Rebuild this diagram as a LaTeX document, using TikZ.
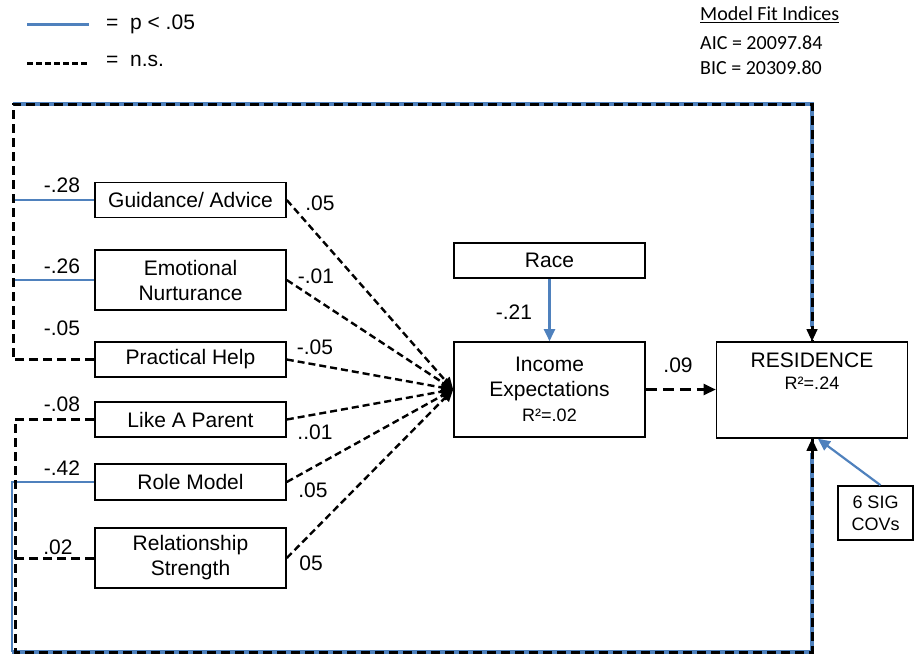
\documentclass[tikz,border=0pt]{standalone}
\usepackage{fontspec}
\setmainfont{Liberation Sans}
\newfontfamily\fitfont{Carlito}
\usetikzlibrary{arrows.meta,calc}
\definecolor{sigblue}{RGB}{79,129,189}

\begin{document}
\begin{tikzpicture}[x=1pt,y=-1pt,
  box/.style={draw,line width=1.6pt,minimum width=191pt,minimum height=35pt,
    inner sep=0pt,align=center,font=\fontsize{21}{25}\selectfont},
  lbl/.style={inner sep=0pt,font=\fontsize{21}{25}\selectfont},
  fit/.style={anchor=west,inner sep=0pt,font=\fitfont\fontsize{20}{24}\selectfont},
  tip/.style={-{Triangle[length=12pt,width=11pt]}},
  sigline/.style={draw=sigblue,line width=2.2pt},
  sigunder/.style={draw=sigblue,line width=4pt},
  nsline/.style={draw=black,line width=3pt,dash pattern=on 9pt off 5pt},
  nsarrow/.style={draw=black,line width=2.4pt,dash pattern=on 7pt off 4pt,tip}
]
\useasboundingbox (0,0) rectangle (915,654);

% legend
\coordinate (lga) at (27,24);
\coordinate (lgb) at (89,24);
\coordinate (lgc) at (27,63);
\coordinate (lgd) at (89,63);
\draw[sigline,line width=3pt] (lga) -- (lgb);
\draw[line width=3pt,dash pattern=on 6pt off 3pt] (lgc) -- (lgd);
\node[lbl,anchor=west] (lgt1) at (106,24) {=\ \ p < .05};
\node[lbl,anchor=west] (lgt2) at (106,61) {=\ \ n.s.};

% model fit
\node[fit] (mfi) at (700,15) {\underline{Model Fit Indices}};
\node[fit] (aic) at (700,43) {AIC = 20097.84};
\node[fit] (bic) at (700,68) {BIC = 20309.80};

% mentoring predictors
\node[box] (gda) at (190.5,200) {Guidance/ Advice};
\node[box,minimum height=60pt] (emo) at (190.5,280) {Emotional\\Nurturance};
\node[box] (prh) at (190.5,359.5) {Practical Help};
\node[box] (lap) at (190.5,419.5) {Like A Parent};
\node[box,minimum height=36pt] (rom) at (190.5,482) {Role Model};
\node[box,minimum height=60pt] (rls) at (190.5,558) {Relationship\\Strength};

% mediator, outcome and covariates
\node[box] (race) at (549.5,260.5) {Race};
\node[box,minimum height=95pt] (inc) at (549.5,389.5)
  {Income\\Expectations\\{\fontsize{18}{20}\selectfont R²=.02}};
\node[box,minimum height=96pt] (res) at (812,390) {};
\node[lbl,align=center] (restxt) at (812,371) {RESIDENCE\\[-3pt]{\fontsize{18}{20}\selectfont R²=.24}};
\node[box,minimum width=75pt,minimum height=54pt,font=\fontsize{18}{22}\selectfont]
  (covs) at (875.5,513) {6 SIG\\COVs};

% bracket corners
\coordinate (tlc) at (13,104);
\coordinate (trc) at (812,104);
\coordinate (blc) at (15,652);
\coordinate (blb) at (12,652);
\coordinate (brc) at (812,652);

% significant paths (blue, drawn first)
\draw[sigline] (gda.west) -- (gda.west -| tlc);
\draw[sigline] (emo.west) -- (emo.west -| tlc);
\draw[sigunder] (tlc) -- (trc) -- ($(res.north)+(0,-14)$);
\draw[sigline] (rom.west) -- (rom.west -| blb) -- (blb);
\draw[sigunder] (blb) -- (brc) -- ($(res.south)+(0,14)$);

% non-significant bracket paths (dashed), with solid heads
\draw[nsline] (prh.west) -- (prh.west -| tlc) -- (tlc) -- (trc) -- (res.north);
\draw[black,tip,line width=1pt] ($(res.north)+(0,-14)$) -- (res.north);
\draw[nsline] (lap.west) -- (lap.west -| blc) -- (blc) -- (brc) -- (res.south);
\draw[black,tip,line width=1pt] ($(res.south)+(0,14)$) -- (res.south);
\draw[nsline] (rls.west) -- (rls.west -| blc);

% paths into income expectations
\draw[nsarrow] (gda.east) -- (inc.west);
\draw[nsarrow] (emo.east) -- (inc.west);
\draw[nsarrow] (prh.east) -- (inc.west);
\draw[nsarrow] (lap.east) -- (inc.west);
\draw[nsarrow] (rom.east) -- (inc.west);
\draw[nsarrow] (rls.east) -- (inc.west);
\draw[sigline,-{Triangle[length=12pt,width=11pt]}] (race) -- (inc);
\draw[nsarrow,dash pattern=on 11pt off 6pt] (inc.east) -- (inc.east -| res.west);
\draw[sigline,-{Triangle[length=12pt,width=11pt]}] ($(covs.north)+(5,0)$) -- ($(res.south)+(6,0)$);

% coefficients on the left
\node[lbl] (c1) at (62,185) {-.28};
\node[lbl] (c2) at (62,266) {-.26};
\node[lbl] (c3) at (62,328) {-.05};
\node[lbl] (c4) at (62,404) {-.08};
\node[lbl] (c5) at (62,468) {-.42};
\node[lbl] (c6) at (58,547) {.02};

% coefficients into income expectations
\node[lbl] (d1) at (320,203) {.05};
\node[lbl] (d2) at (316,276) {-.01};
\node[lbl] (d3) at (315,347) {-.05};
\node[lbl] (d4) at (315,432) {..01};
\node[lbl] (d5) at (313,490) {.05};
\node[lbl] (d6) at (311,563) {05};
\node[lbl] (r1) at (514,312) {-.21};
\node[lbl] (r2) at (678,365) {.09};
\end{tikzpicture}
\end{document}
